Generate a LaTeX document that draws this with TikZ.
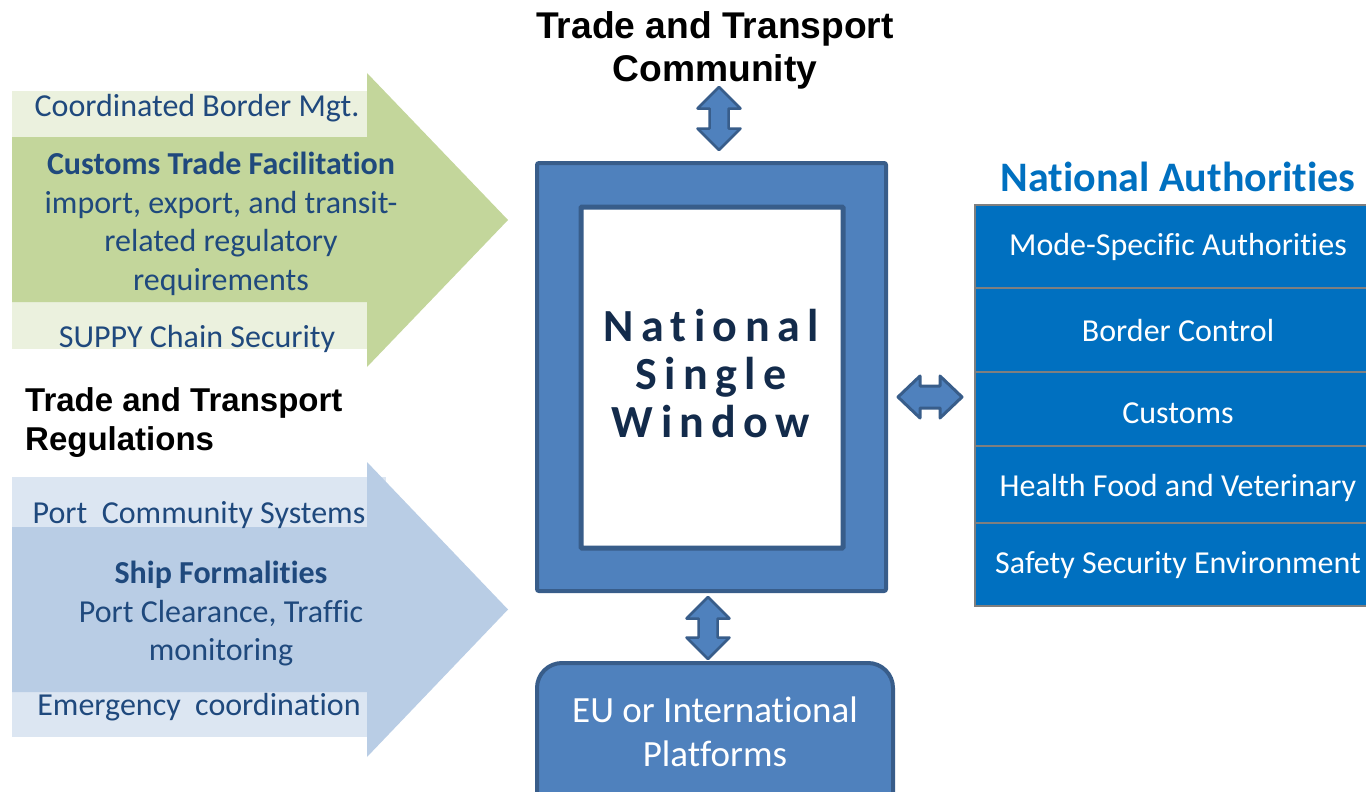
\documentclass[tikz,border=0pt]{standalone}
\usepackage{fontspec}
\setmainfont[Ligatures=NoCommon]{Carlito}
\newfontfamily\arialfont{Liberation Sans}
\newfontfamily\nswfont[LetterSpace=16,Ligatures=NoCommon]{Carlito}
\definecolor{gdark}{HTML}{C3D69B}
\definecolor{glight}{HTML}{EBF1DE}
\definecolor{bdark}{HTML}{B9CDE5}
\definecolor{blight}{HTML}{DCE6F2}
\definecolor{txtblue}{HTML}{1F497D}
\definecolor{accent}{HTML}{4F81BD}
\definecolor{accentdk}{HTML}{385D8A}
\definecolor{nswtext}{HTML}{132B4B}
\definecolor{tblue}{HTML}{0070C0}
\definecolor{tgray}{HTML}{7F7F7F}
\tikzset{
  lefttxt/.style={text=txtblue, font=\fontsize{32}{38.5}\selectfont, align=center, inner sep=0pt},
  title/.style={text=black, font=\arialfont\bfseries\fontsize{37.2}{43}\selectfont, align=center, inner sep=0pt},
  rowtxt/.style={text=white, font=\fontsize{32}{38}\selectfont, inner sep=0pt},
  tablerow/.style={fill=tblue, draw=tgray, line width=2pt},
  blockarrow/.style={fill=accent, draw=accentdk, line width=2.5pt, line join=round},
}
\begin{document}
\begin{tikzpicture}[x=1pt, y=-1pt]
\useasboundingbox (0,0) rectangle (1366,792);
\clip (0,0) rectangle (1366,792);
\fill[white] (0,0) rectangle (1366,792);

% ---------- green arrow ----------
\fill[glight] (12,91) rectangle (367,137);
\fill[glight] (12,302) rectangle (367,349);
\fill[gdark] (12,137) -- (367,137) -- (367,73) -- (508,220) -- (367,367) -- (367,302) -- (12,302) -- cycle;
\node[lefttxt] (cbm) at (197,108) {Coordinated Border Mgt.};
\node[lefttxt] (ctf) at (221,224) {\textbf{Customs Trade Facilitation}\\import, export, and transit-\\related regulatory\\requirements};
\node[lefttxt] (scs) at (197,339) {SUPPY Chain Security};

% ---------- title left ----------
\node[title, font=\arialfont\bfseries\fontsize{33}{39}\selectfont, align=left, anchor=west] (ttr) at (25,423) {Trade and Transport\\Regulations};

% ---------- blue arrow ----------
\fill[blight] (12,477) rectangle (386,527);
\fill[blight] (12,692) rectangle (367,737);
\fill[bdark] (12,527) -- (367,527) -- (367,462) -- (508,609.5) -- (367,757) -- (367,692) -- (12,692) -- cycle;
\node[lefttxt] (pcs) at (199,515) {Port\ \ Community Systems};
\node[lefttxt] (shf) at (221,614) {\textbf{Ship Formalities}\\Port Clearance, Traffic\\monitoring};
\node[lefttxt] (emc) at (199,707) {Emergency\ \ coordination};

% ---------- top title ----------
\node[title] (ttc) at (715,50) {Trade and Transport\\Community};

% ---------- National Single Window frame ----------
\draw[fill=accent, draw=accentdk, line width=4pt, rounded corners=2pt] (537,163) rectangle (886,591);
\draw[fill=white, draw=accentdk, line width=5pt, rounded corners=1pt] (581,207) rectangle (843,548);
\node[text=nswtext, font=\nswfont\bfseries\fontsize{46}{48}\selectfont, align=center, inner sep=0pt] (nsw) at (711,374) {National\\Single\\Window};

% ---------- bottom platform box ----------
\draw[fill=accent, draw=accentdk, line width=4pt, rounded corners=25pt] (537,663) rectangle (893,830);
\node[text=white, font=\fontsize{37}{44}\selectfont, align=center, inner sep=0pt] (eu) at (715,732) {EU or International\\Platforms};

% ---------- vertical double arrows ----------
\draw[blockarrow] (719,87) -- (740.5,108.5) -- (728.5,108.5) -- (728.5,128.5) -- (740.5,128.5) -- (719,150) -- (697.5,128.5) -- (709.5,128.5) -- (709.5,108.5) -- (697.5,108.5) -- cycle;
\draw[blockarrow] (708,597) -- (729.5,618.5) -- (717.5,618.5) -- (717.5,637.5) -- (729.5,637.5) -- (708,659) -- (686.5,637.5) -- (698.5,637.5) -- (698.5,618.5) -- (686.5,618.5) -- cycle;

% ---------- horizontal double arrow ----------
\draw[blockarrow, line width=3pt] (898,397) -- (920,376) -- (920,386) -- (940,386) -- (940,376) -- (962,397) -- (940,418) -- (940,408) -- (920,408) -- (920,418) -- cycle;

% ---------- National Authorities ----------
\node[text=tblue, font=\bfseries\fontsize{42}{46}\selectfont, inner sep=0pt] (na) at (1178,177) {National Authorities};
\draw[tablerow] (975,205) rectangle (1380,288);
\draw[tablerow] (975,288) rectangle (1380,372);
\draw[tablerow] (975,372) rectangle (1380,446);
\draw[tablerow] (975,446) rectangle (1380,523);
\draw[tablerow] (975,523) rectangle (1380,606);
\node[rowtxt] (r1) at (1178,247) {Mode-Specific Authorities};
\node[rowtxt] (r2) at (1178,331) {Border Control};
\node[rowtxt] (r3) at (1178,413) {Customs};
\node[rowtxt] (r4) at (1178,488) {Health Food and Veterinary};
\node[rowtxt] (r5) at (1178,565) {Safety Security Environment};
\end{tikzpicture}
\end{document}
